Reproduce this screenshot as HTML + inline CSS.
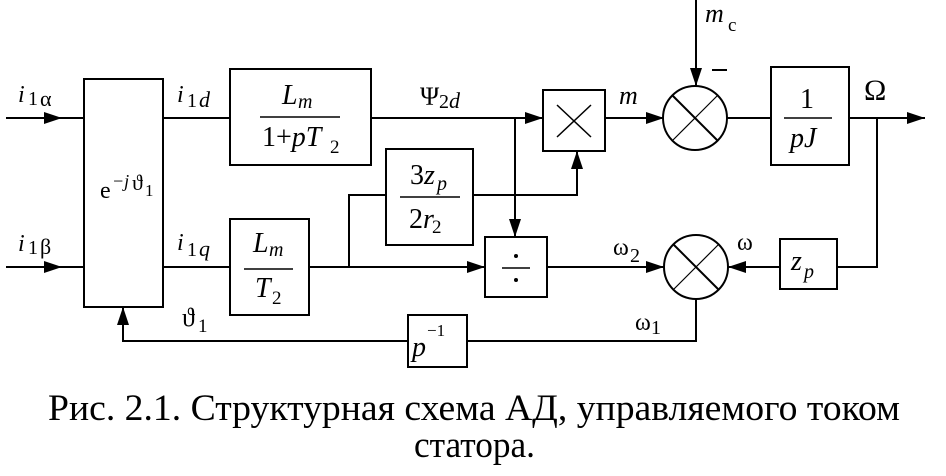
<!DOCTYPE html>
<html><head><meta charset="utf-8"><style>
html,body{margin:0;padding:0;background:#fff;}
svg{display:block;}
svg text{font-family:"Liberation Serif","DejaVu Serif",serif !important;fill:#000;}
.it{font-style:italic;}
</style></head><body>
<svg width="946" height="476" viewBox="0 0 946 476" xmlns="http://www.w3.org/2000/svg" font-family="Liberation Serif, serif">
<defs>
<marker id="b" markerWidth="18" markerHeight="12" refX="18" refY="6" orient="auto" markerUnits="userSpaceOnUse" viewBox="0 0 18 12">
<path d="M0,0 L18,6 L0,12 z" fill="#000"/></marker>
</defs>
<rect width="946" height="476" fill="#fff"/>
<g stroke="#000" stroke-width="2" fill="none">
<line x1="6" y1="118" x2="62" y2="118" marker-end="url(#b)"/>
<line x1="62" y1="118" x2="84" y2="118"/>
<line x1="6" y1="267" x2="62" y2="267" marker-end="url(#b)"/>
<line x1="62" y1="267" x2="84" y2="267"/>
<rect x="84" y="79" width="79" height="228"/>
<line x1="163" y1="118" x2="230" y2="118"/>
<rect x="230" y="69" width="141" height="96"/>
<line x1="371" y1="118" x2="543" y2="118" marker-end="url(#b)"/>
<rect x="543" y="90" width="62" height="61"/>
<line x1="557" y1="105" x2="591" y2="137" stroke-width="1.5"/>
<line x1="591" y1="105" x2="557" y2="137" stroke-width="1.5"/>
<line x1="605" y1="118" x2="664" y2="118" marker-end="url(#b)"/>
<circle cx="695" cy="118" r="32"/>
<line x1="673" y1="96" x2="717" y2="140"/>
<line x1="717" y1="96" x2="673" y2="140" stroke-width="1.2"/>
<line x1="696" y1="0" x2="696" y2="86" marker-end="url(#b)"/>
<line x1="727" y1="118" x2="771" y2="118"/>
<rect x="771" y="67" width="78" height="98"/>
<line x1="849" y1="118" x2="925" y2="118" marker-end="url(#b)"/>
<polyline points="877,118 877,267 837,267"/>
<rect x="780" y="239" width="57" height="50"/>
<line x1="780" y1="267" x2="728" y2="267" marker-end="url(#b)"/>
<circle cx="696" cy="267" r="32"/>
<line x1="674" y1="245" x2="718" y2="289"/>
<line x1="718" y1="245" x2="674" y2="289" stroke-width="1.2"/>
<line x1="515" y1="118" x2="515" y2="237" marker-end="url(#b)"/>
<rect x="485" y="237" width="62" height="60"/>
<line x1="502" y1="268" x2="530" y2="268" stroke-width="1.5"/>
<line x1="163" y1="267" x2="230" y2="267"/>
<rect x="230" y="219" width="79" height="96"/>
<line x1="309" y1="267" x2="485" y2="267" marker-end="url(#b)"/>
<polyline points="349,267 349,195 386,195"/>
<rect x="386" y="149" width="87" height="96"/>
<polyline points="473,195 577,195 577,151" marker-end="url(#b)"/>
<line x1="547" y1="267" x2="664" y2="267" marker-end="url(#b)"/>
<polyline points="696,299 696,341 467,341"/>
<rect x="408" y="315" width="59" height="52"/>
<polyline points="408,341 123,341 123,307" marker-end="url(#b)"/>
<line x1="260" y1="117" x2="340" y2="117" stroke-width="1.5"/>
<line x1="244" y1="269" x2="293" y2="269" stroke-width="1.5"/>
<line x1="400" y1="197" x2="460" y2="197" stroke-width="1.5"/>
<line x1="784" y1="118" x2="832" y2="118" stroke-width="1.5"/>
<line x1="712" y1="70" x2="727" y2="70"/>
</g>
<circle cx="516" cy="256" r="2" fill="#000"/>
<circle cx="516" cy="280" r="2" fill="#000"/>
<text x="18" y="102" style="font-size:24px" class="it">i</text><text x="28" y="105" style="font-size:20px">1</text><text x="40" y="106" style="font-size:22px">α</text>
<text x="18" y="251" style="font-size:24px" class="it">i</text><text x="28" y="254" style="font-size:20px">1</text><text x="40" y="254" style="font-size:22px">β</text>
<text x="100" y="198" style="font-size:24px">e</text><text x="112" y="187" style="font-size:18px" class="it">−j</text><text x="132" y="190" style="font-size:22px">ϑ</text><text x="145" y="196" style="font-size:17px">1</text>
<text x="177" y="102" style="font-size:24px" class="it">i</text><text x="187" y="107" style="font-size:20px">1</text><text x="199" y="107" style="font-size:22px" class="it">d</text>
<text x="177" y="250" style="font-size:24px" class="it">i</text><text x="187" y="256" style="font-size:20px">1</text><text x="199" y="256" style="font-size:22px" class="it">q</text>
<text x="282" y="104" style="font-size:28px" class="it">L</text><text x="298" y="108" style="font-size:20px" class="it">m</text>
<text x="262" y="146" style="font-size:28px">1+<tspan class="it">pT</tspan></text><text x="330" y="153" style="font-size:19px">2</text>
<text x="253" y="252" style="font-size:28px" class="it">L</text><text x="269" y="256" style="font-size:20px" class="it">m</text>
<text x="255" y="297" style="font-size:28px" class="it">T</text><text x="272" y="304" style="font-size:19px">2</text>
<text x="410" y="184" style="font-size:28px">3<tspan class="it">z</tspan></text><text x="437" y="190" style="font-size:20px" class="it">p</text>
<text x="409" y="228" style="font-size:28px">2<tspan class="it">r</tspan></text><text x="432" y="233" style="font-size:19px">2</text>
<text x="420" y="105" style="font-size:26px">Ψ</text><text x="439" y="108" style="font-size:20px">2</text><text x="449" y="108" style="font-size:22px" class="it">d</text>
<text x="619" y="104" style="font-size:26px" class="it">m</text>
<text x="705" y="22" style="font-size:26px" class="it">m</text><text x="728" y="31" style="font-size:19px;font-family:'Liberation Sans',sans-serif">c</text>
<text x="800" y="108" style="font-size:28px">1</text>
<text x="790" y="147" style="font-size:28px" class="it">pJ</text>
<text x="864" y="100" style="font-size:30px">Ω</text>
<text x="791" y="270" style="font-size:28px" class="it">z</text><text x="804" y="278" style="font-size:20px" class="it">p</text>
<text x="737" y="250" style="font-size:24px">ω</text>
<text x="613" y="255" style="font-size:24px">ω</text><text x="630" y="262" style="font-size:20px">2</text>
<text x="635" y="330" style="font-size:24px">ω</text><text x="651" y="334" style="font-size:20px">1</text>
<text x="182" y="326" style="font-size:26px">ϑ</text><text x="198" y="332" style="font-size:19px">1</text>
<text x="412" y="356" style="font-size:28px" class="it">p</text><text x="427" y="336" style="font-size:17px">−1</text>
<text x="48" y="420" style="font-size:37px" textLength="852" lengthAdjust="spacingAndGlyphs">Рис. 2.1. Структурная схема АД, управляемого током</text>
<text x="414" y="457" style="font-size:37px" textLength="121" lengthAdjust="spacingAndGlyphs">статора.</text>
</svg>
</body></html>
